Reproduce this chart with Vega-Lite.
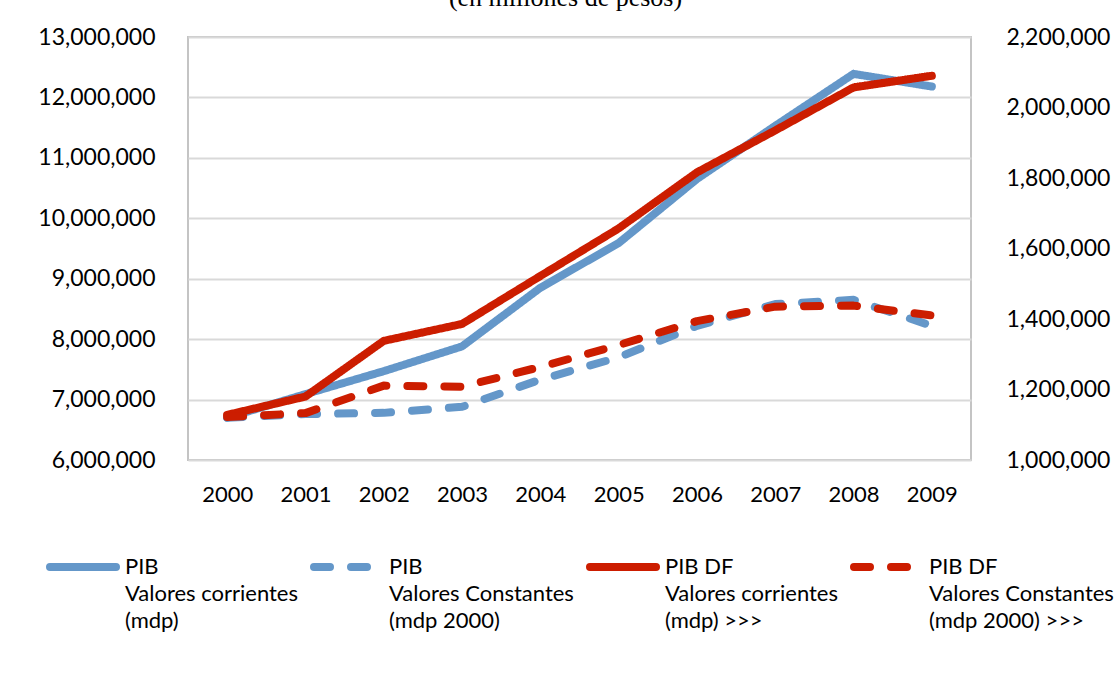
{
  "$schema": "https://vega.github.io/schema/vega-lite/v6.json",
  "width": 783,
  "height": 423,
  "autosize": {"type": "none"},
  "padding": {"left": 188, "top": 37, "right": 148, "bottom": 213},
  "background": "white",
  "title": {
    "text": "(en millones de pesos)",
    "font": "Liberation Serif",
    "fontSize": 26,
    "fontWeight": "normal",
    "color": "#000000",
    "anchor": "middle",
    "frame": "group",
    "baseline": "alphabetic",
    "offset": 0,
    "dy": 6,
    "dx": -14
  },
  "data": {
    "values": [
      {"anio": "2000", "entidad": "Nacional", "serie": "PIB|Valores corrientes|(mdp)", "valor": 6700000},
      {"anio": "2001", "entidad": "Nacional", "serie": "PIB|Valores corrientes|(mdp)", "valor": 7090000},
      {"anio": "2002", "entidad": "Nacional", "serie": "PIB|Valores corrientes|(mdp)", "valor": 7470000},
      {"anio": "2003", "entidad": "Nacional", "serie": "PIB|Valores corrientes|(mdp)", "valor": 7880000},
      {"anio": "2004", "entidad": "Nacional", "serie": "PIB|Valores corrientes|(mdp)", "valor": 8850000},
      {"anio": "2005", "entidad": "Nacional", "serie": "PIB|Valores corrientes|(mdp)", "valor": 9590000},
      {"anio": "2006", "entidad": "Nacional", "serie": "PIB|Valores corrientes|(mdp)", "valor": 10650000},
      {"anio": "2007", "entidad": "Nacional", "serie": "PIB|Valores corrientes|(mdp)", "valor": 11530000},
      {"anio": "2008", "entidad": "Nacional", "serie": "PIB|Valores corrientes|(mdp)", "valor": 12390000},
      {"anio": "2009", "entidad": "Nacional", "serie": "PIB|Valores corrientes|(mdp)", "valor": 12180000},

      {"anio": "2000", "entidad": "Nacional", "serie": "PIB|Valores Constantes|(mdp 2000)", "valor": 6700000},
      {"anio": "2001", "entidad": "Nacional", "serie": "PIB|Valores Constantes|(mdp 2000)", "valor": 6760000},
      {"anio": "2002", "entidad": "Nacional", "serie": "PIB|Valores Constantes|(mdp 2000)", "valor": 6780000},
      {"anio": "2003", "entidad": "Nacional", "serie": "PIB|Valores Constantes|(mdp 2000)", "valor": 6880000},
      {"anio": "2004", "entidad": "Nacional", "serie": "PIB|Valores Constantes|(mdp 2000)", "valor": 7330000},
      {"anio": "2005", "entidad": "Nacional", "serie": "PIB|Valores Constantes|(mdp 2000)", "valor": 7700000},
      {"anio": "2006", "entidad": "Nacional", "serie": "PIB|Valores Constantes|(mdp 2000)", "valor": 8220000},
      {"anio": "2007", "entidad": "Nacional", "serie": "PIB|Valores Constantes|(mdp 2000)", "valor": 8580000},
      {"anio": "2008", "entidad": "Nacional", "serie": "PIB|Valores Constantes|(mdp 2000)", "valor": 8650000},
      {"anio": "2009", "entidad": "Nacional", "serie": "PIB|Valores Constantes|(mdp 2000)", "valor": 8220000},

      {"anio": "2000", "entidad": "DF", "serie": "PIB DF|Valores corrientes|(mdp) >>>", "valor": 1128000},
      {"anio": "2001", "entidad": "DF", "serie": "PIB DF|Valores corrientes|(mdp) >>>", "valor": 1180000},
      {"anio": "2002", "entidad": "DF", "serie": "PIB DF|Valores corrientes|(mdp) >>>", "valor": 1338000},
      {"anio": "2003", "entidad": "DF", "serie": "PIB DF|Valores corrientes|(mdp) >>>", "valor": 1386000},
      {"anio": "2004", "entidad": "DF", "serie": "PIB DF|Valores corrientes|(mdp) >>>", "valor": 1522000},
      {"anio": "2005", "entidad": "DF", "serie": "PIB DF|Valores corrientes|(mdp) >>>", "valor": 1657000},
      {"anio": "2006", "entidad": "DF", "serie": "PIB DF|Valores corrientes|(mdp) >>>", "valor": 1816000},
      {"anio": "2007", "entidad": "DF", "serie": "PIB DF|Valores corrientes|(mdp) >>>", "valor": 1935000},
      {"anio": "2008", "entidad": "DF", "serie": "PIB DF|Valores corrientes|(mdp) >>>", "valor": 2057000},
      {"anio": "2009", "entidad": "DF", "serie": "PIB DF|Valores corrientes|(mdp) >>>", "valor": 2090000},

      {"anio": "2000", "entidad": "DF", "serie": "PIB DF|Valores Constantes|(mdp 2000) >>>", "valor": 1122000},
      {"anio": "2001", "entidad": "DF", "serie": "PIB DF|Valores Constantes|(mdp 2000) >>>", "valor": 1133000},
      {"anio": "2002", "entidad": "DF", "serie": "PIB DF|Valores Constantes|(mdp 2000) >>>", "valor": 1211000},
      {"anio": "2003", "entidad": "DF", "serie": "PIB DF|Valores Constantes|(mdp 2000) >>>", "valor": 1208000},
      {"anio": "2004", "entidad": "DF", "serie": "PIB DF|Valores Constantes|(mdp 2000) >>>", "valor": 1264000},
      {"anio": "2005", "entidad": "DF", "serie": "PIB DF|Valores Constantes|(mdp 2000) >>>", "valor": 1326000},
      {"anio": "2006", "entidad": "DF", "serie": "PIB DF|Valores Constantes|(mdp 2000) >>>", "valor": 1394000},
      {"anio": "2007", "entidad": "DF", "serie": "PIB DF|Valores Constantes|(mdp 2000) >>>", "valor": 1435000},
      {"anio": "2008", "entidad": "DF", "serie": "PIB DF|Valores Constantes|(mdp 2000) >>>", "valor": 1438000},
      {"anio": "2009", "entidad": "DF", "serie": "PIB DF|Valores Constantes|(mdp 2000) >>>", "valor": 1410000}
    ]
  },
  "encoding": {
    "x": {
      "field": "anio",
      "type": "ordinal",
      "scale": {"type": "point", "padding": 0.5},
      "axis": {
        "title": null,
        "labelAngle": 0,
        "domain": false,
        "ticks": false,
        "grid": false,
        "labelPadding": 24,
        "labelFont": "Lato",
        "labelFontSize": 22,
        "labelColor": "#000000"
      }
    },
    "color": {
      "field": "serie",
      "type": "nominal",
      "scale": {
        "domain": [
          "PIB|Valores corrientes|(mdp)",
          "PIB|Valores Constantes|(mdp 2000)",
          "PIB DF|Valores corrientes|(mdp) >>>",
          "PIB DF|Valores Constantes|(mdp 2000) >>>"
        ],
        "range": ["#6497C9", "#6497C9", "#CC1D00", "#CC1D00"]
      },
      "legend": {
        "title": null,
        "orient": "none",
        "legendX": -142,
        "legendY": 493,
        "direction": "horizontal",
        "columns": 4,
        "columnPadding": 0,
        "labelExpr": "split(datum.label, '|')",
        "encode": {
          "symbols": {"update": {"strokeCap": {"value": "round"}}},
          "labels": {"update": {"lineHeight": {"value": 27}}}
        }
      }
    },
    "strokeDash": {
      "field": "serie",
      "type": "nominal",
      "scale": {
        "domain": [
          "PIB|Valores corrientes|(mdp)",
          "PIB|Valores Constantes|(mdp 2000)",
          "PIB DF|Valores corrientes|(mdp) >>>",
          "PIB DF|Valores Constantes|(mdp 2000) >>>"
        ],
        "range": [[1, 0], [16, 21], [1, 0], [16, 21]]
      },
      "legend": {
        "title": null,
        "orient": "none",
        "legendX": -142,
        "legendY": 493,
        "direction": "horizontal",
        "columns": 4,
        "columnPadding": 0,
        "labelExpr": "split(datum.label, '|')",
        "encode": {
          "symbols": {"update": {"strokeCap": {"value": "round"}}},
          "labels": {"update": {"lineHeight": {"value": 27}}}
        }
      }
    }
  },
  "layer": [
    {
      "transform": [{"filter": "datum.entidad == 'Nacional'"}],
      "mark": {"type": "line", "strokeWidth": 8, "strokeCap": "round", "strokeJoin": "round"},
      "encoding": {
        "y": {
          "field": "valor",
          "type": "quantitative",
          "scale": {"domain": [6000000, 13000000], "zero": false, "nice": false},
          "axis": {
            "orient": "left",
            "title": null,
            "values": [6000000, 7000000, 8000000, 9000000, 10000000, 11000000, 12000000, 13000000],
            "format": ",.0f",
            "grid": true,
            "gridColor": "#D9D9D9",
            "gridWidth": 2,
            "domain": false,
            "ticks": false,
            "labelPadding": 33,
            "labelFont": "Lato",
            "labelFontSize": 23,
            "labelColor": "#000000"
          }
        }
      }
    },
    {
      "transform": [{"filter": "datum.entidad == 'DF'"}],
      "mark": {"type": "line", "strokeWidth": 8, "strokeCap": "round", "strokeJoin": "round"},
      "encoding": {
        "y": {
          "field": "valor",
          "type": "quantitative",
          "scale": {"domain": [1000000, 2200000], "zero": false, "nice": false},
          "axis": {
            "orient": "right",
            "title": null,
            "values": [1000000, 1200000, 1400000, 1600000, 1800000, 2000000, 2200000],
            "format": ",.0f",
            "grid": false,
            "domain": false,
            "ticks": false,
            "labelPadding": 35,
            "labelFont": "Lato",
            "labelFontSize": 23,
            "labelColor": "#000000"
          }
        }
      }
    }
  ],
  "resolve": {"scale": {"y": "independent"}},
  "config": {
    "view": {"stroke": "#C4C4C4", "strokeWidth": 2},
    "legend": {
      "labelFont": "Lato",
      "labelFontSize": 22,
      "labelColor": "#000000",
      "labelOffset": 5,
      "labelLimit": 400,
      "symbolType": "stroke",
      "symbolSize": 4356,
      "symbolStrokeWidth": 8
    }
  }
}
